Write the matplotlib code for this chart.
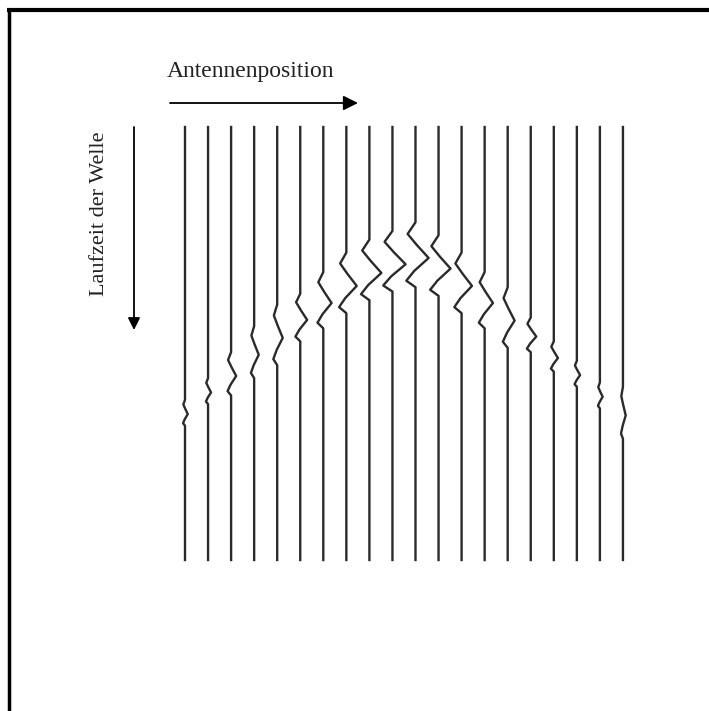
import numpy as np
import matplotlib.pyplot as plt

# Radargramm-Skizze: 20 Spuren mit Reflexionshyperbel
antenna_pos = np.arange(20)
arrival = [66, 61, 57, 52, 48, 44, 40, 36, 33, 31, 29.5,
           32, 36, 40, 44, 48, 53, 57, 62, 66]          # Laufzeit (willk. Einheit)
amplitude = [0.12, 0.13, 0.22, 0.2, 0.24, 0.3, 0.36, 0.45, 0.52, 0.57, 0.57,
             0.52, 0.45, 0.36, 0.3, 0.24, 0.18, 0.14, 0.12, 0.12]
duration = [6, 6, 10, 12, 14, 11, 13, 14, 14, 14, 15,
            14, 14, 13, 14, 8, 7, 6, 6, 12]
# Form des Wellenzugs (relative Zeit, relative Auslenkung)
wave_t = [0.0, 0.18, 0.35, 0.55, 0.75, 0.9, 1.0]
wave_a = [0.0, -0.6, 0.1, 1.0, -0.1, -0.7, 0.0]
t_max = 100

fig = plt.figure(figsize=(7.09, 7.11), dpi=100)

ax = fig.add_axes([0, 0, 1, 1])
ax.set_xlim(-185 / 23.05, (709 - 185) / 23.05)
ax.set_ylim((711 - 127) / 4.33, -127 / 4.33)
ax.axis('off')

for i, x0 in enumerate(antenna_pos):
    t0 = arrival[i] - duration[i] / 2
    tw = [t0 + s * duration[i] for s in wave_t]
    xw = [x0 + amplitude[i] * a for a in wave_a]
    ys = [0] + tw + [t_max]
    xs = [x0] + xw + [x0]
    ax.plot(xs, ys, color='#2a2a2a', lw=1.7, solid_joinstyle='round')

# Beschriftung und Pfeile (Pixelkoordinaten)
ov = fig.add_axes([0, 0, 1, 1], facecolor='none')
ov.set_xlim(0, 709)
ov.set_ylim(711, 0)
ov.axis('off')

ov.plot([7, 709], [9.5, 9.5], color='black', lw=3, solid_capstyle='butt')
ov.plot([8.5, 8.5], [8, 711], color='black', lw=2.5, solid_capstyle='butt')

ov.text(167, 72, 'Antennenposition', family='Liberation Serif', fontsize=17,
        ha='left', va='center', color='#222222')
ov.annotate('', xy=(358, 103), xytext=(170, 103),
            arrowprops=dict(arrowstyle='-|>', color='black', lw=1.3,
                            mutation_scale=22, shrinkA=0, shrinkB=0))
ov.text(99, 214, 'Laufzeit der Welle', family='Liberation Serif', fontsize=16,
        rotation=90, ha='center', va='center', color='#222222')
ov.annotate('', xy=(134, 330), xytext=(134, 127),
            arrowprops=dict(arrowstyle='-|>', color='black', lw=1.3,
                            mutation_scale=18, shrinkA=0, shrinkB=0))

fig.savefig('out.png', dpi=100, facecolor='white')
